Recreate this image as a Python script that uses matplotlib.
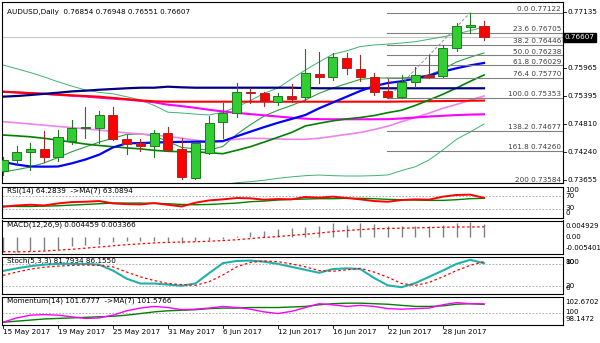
import matplotlib
matplotlib.use("Agg")
import matplotlib.pyplot as plt
from matplotlib.patches import Rectangle
from matplotlib.transforms import blended_transform_factory

# ---------------- data ----------------
dates = ["15 May 2017", "19 May 2017", "25 May 2017", "31 May 2017", "6 Jun 2017",
         "12 Jun 2017", "16 Jun 2017", "22 Jun 2017", "28 Jun 2017"]
date_idx = [0, 4, 8, 12, 16, 20, 24, 28, 32]

opens = [0.73842, 0.74070, 0.74229, 0.74297, 0.74138, 0.74469, 0.74726, 0.74726, 0.75002, 0.74498,
         0.74428, 0.74360, 0.74623, 0.74291, 0.73690, 0.74208, 0.74863, 0.75049, 0.75484, 0.75464,
         0.75277, 0.75395, 0.75381, 0.75851, 0.75782, 0.76176, 0.75954, 0.75795, 0.75505, 0.75381,
         0.75679, 0.75830, 0.75809, 0.76383, 0.76830, 0.76854]
highs = [0.74132, 0.74366, 0.74415, 0.74670, 0.74691, 0.74898, 0.75161, 0.75091, 0.75173, 0.74587,
         0.74498, 0.74691, 0.74759, 0.74519, 0.74449, 0.74981, 0.75244, 0.75658, 0.75555, 0.75484,
         0.75464, 0.75637, 0.76369, 0.76313, 0.76280, 0.76292, 0.76244, 0.75878, 0.75741, 0.75830,
         0.76002, 0.76244, 0.76452, 0.76901, 0.77122, 0.76948]
lows = [0.73759, 0.73966, 0.73862, 0.74034, 0.74049, 0.74395, 0.74531, 0.74415, 0.74484, 0.74194,
        0.74262, 0.74138, 0.74266, 0.73670, 0.73676, 0.74188, 0.74519, 0.74966, 0.75256, 0.75188,
        0.75209, 0.75277, 0.75312, 0.75671, 0.75727, 0.75845, 0.75712, 0.75416, 0.75353, 0.75360,
        0.75575, 0.75768, 0.75795, 0.76333, 0.76694, 0.76551]
closes = [0.74070, 0.74229, 0.74291, 0.74138, 0.74552, 0.74726, 0.74753, 0.75002, 0.74498, 0.74395,
          0.74360, 0.74623, 0.74277, 0.73711, 0.74415, 0.74830, 0.75037, 0.75484, 0.75451, 0.75298,
          0.75401, 0.75333, 0.75865, 0.75782, 0.76209, 0.75969, 0.75795, 0.75484, 0.75381, 0.75691,
          0.75830, 0.75782, 0.76396, 0.76845, 0.76858, 0.76607]

ma_navy = [0.75381, 0.75395, 0.75416, 0.75440, 0.75463, 0.75490, 0.75505, 0.75525, 0.75540, 0.75555,
           0.75567, 0.75567, 0.75588, 0.75575, 0.75567, 0.75567, 0.75567, 0.75567, 0.75567, 0.75567,
           0.75567, 0.75567, 0.75560, 0.75555, 0.75555, 0.75555, 0.75555, 0.75555, 0.75555, 0.75555,
           0.75555, 0.75555, 0.75555, 0.75555, 0.75555, 0.75555]
ma_red = [0.75484, 0.75470, 0.75455, 0.75440, 0.75425, 0.75410, 0.75395, 0.75381, 0.75355, 0.75330,
          0.75305, 0.75285, 0.75277, 0.75277, 0.75277, 0.75277, 0.75277, 0.75277, 0.75277, 0.75277,
          0.75277, 0.75277, 0.75277, 0.75277, 0.75277, 0.75277, 0.75277, 0.75277, 0.75277, 0.75280,
          0.75283, 0.75287, 0.75290, 0.75294, 0.75297, 0.75300]
ma_magenta = [0.75484, 0.75468, 0.75452, 0.75440, 0.75420, 0.75400, 0.75385, 0.75360, 0.75340, 0.75320,
              0.75295, 0.75265, 0.75215, 0.75185, 0.75150, 0.75110, 0.75075, 0.75045, 0.75020, 0.74995,
              0.74970, 0.74945, 0.74925, 0.74915, 0.74913, 0.74913, 0.74913, 0.74913, 0.74915, 0.74930,
              0.74950, 0.74970, 0.74985, 0.75000, 0.75010, 0.75016]
ma_violet = [0.74863, 0.74840, 0.74815, 0.74790, 0.74765, 0.74740, 0.74715, 0.74690, 0.74660, 0.74630,
             0.74610, 0.74585, 0.74560, 0.74520, 0.74480, 0.74449, 0.74470, 0.74500, 0.74519, 0.74515,
             0.74505, 0.74498, 0.74498, 0.74520, 0.74560, 0.74600, 0.74640, 0.74700, 0.74770, 0.74863,
             0.74950, 0.75040, 0.75140, 0.75220, 0.75310, 0.75395]
ma_blue = [0.74028, 0.73975, 0.73935, 0.73931, 0.73935, 0.74000, 0.74080, 0.74180, 0.74330, 0.74415,
           0.74420, 0.74430, 0.74440, 0.74445, 0.74449, 0.74449, 0.74460, 0.74560, 0.74656, 0.74750,
           0.74840, 0.74920, 0.75002, 0.75140, 0.75260, 0.75380, 0.75500, 0.75600, 0.75664, 0.75700,
           0.75760, 0.75820, 0.75900, 0.75970, 0.76030, 0.76079]
bb_mid = [0.74587, 0.74570, 0.74550, 0.74519, 0.74480, 0.74440, 0.74400, 0.74370, 0.74345, 0.74320,
          0.74300, 0.74270, 0.74250, 0.74241, 0.74241, 0.74220, 0.74200, 0.74270, 0.74345, 0.74440,
          0.74540, 0.74640, 0.74774, 0.74830, 0.74880, 0.74920, 0.74950, 0.74990, 0.75050, 0.75100,
          0.75200, 0.75312, 0.75430, 0.75560, 0.75700, 0.75830]
bb_up = [0.76037, 0.75960, 0.75880, 0.75790, 0.75690, 0.75600, 0.75520, 0.75470, 0.75440, 0.75380,
         0.75312, 0.75200, 0.75060, 0.75043, 0.75020, 0.75002, 0.75060, 0.75167, 0.75300, 0.75450,
         0.75560, 0.75750, 0.75934, 0.76100, 0.76260, 0.76330, 0.76420, 0.76452, 0.76470, 0.76493,
         0.76520, 0.76570, 0.76620, 0.76680, 0.76750, 0.76824]
bb_low = [0.73140, 0.73180, 0.73220, 0.73250, 0.73270, 0.73280, 0.73280, 0.73270, 0.73250, 0.73260,
          0.73290, 0.73340, 0.73440, 0.73440, 0.73460, 0.73500, 0.73560, 0.73600, 0.73620, 0.73650,
          0.73690, 0.73720, 0.73745, 0.73758, 0.73745, 0.73738, 0.73738, 0.73745, 0.73760, 0.73850,
          0.73930, 0.74070, 0.74276, 0.74500, 0.74650, 0.74815]
ma_fast = [0.73821, 0.73870, 0.73925, 0.74010, 0.74120, 0.74240, 0.74340, 0.74440, 0.74520, 0.74600,
           0.74609, 0.74570, 0.74450, 0.74330, 0.74300, 0.74276, 0.74350, 0.74600, 0.74800, 0.74980,
           0.75100, 0.75200, 0.75312, 0.75450, 0.75560, 0.75650, 0.75740, 0.75768, 0.75768, 0.75768,
           0.75790, 0.75830, 0.75950, 0.76100, 0.76200, 0.76286]

fib_pct = ["0.0", "23.6", "38.2", "50.0", "61.8", "76.4", "100.0", "138.2", "161.8", "200"]
fib_lvl = [0.77122, 0.76705, 0.76446, 0.76238, 0.76029, 0.75770, 0.75353, 0.74677, 0.74260, 0.73584]
price_ticks = [0.77135, 0.75965, 0.75395, 0.74810, 0.74240, 0.73655]
last_price = 0.76607

rsi = [38, 42, 44, 42, 48, 52, 53, 55, 48, 46, 45, 49, 44, 39, 50, 57, 60, 64, 63, 59,
       61, 60, 67, 65, 68, 64, 60, 55, 53, 58, 60, 59, 68, 73, 74, 64.2839]
rsi_ma = [40, 39, 39, 40, 41, 43, 45, 47, 49, 49, 49, 48, 47, 45, 44, 45, 47, 49, 53, 55,
          58, 60, 61, 62, 62, 63, 63, 62, 60, 59, 58, 57, 57, 59, 62, 63.0894]

macd = [-0.0054, -0.0054, -0.0049, -0.0046, -0.0043, -0.0033, -0.0030, -0.0025, -0.0020, -0.0017,
        -0.0017, -0.0017, -0.0017, -0.0022, -0.0017, -0.0013, -0.0010, 0.0003, 0.0017, 0.0020,
        0.0025, 0.0030, 0.0033, 0.0035, 0.0046, 0.0041, 0.0046, 0.0043, 0.0035, 0.0035,
        0.0035, 0.0035, 0.0041, 0.0047, 0.004929, 0.004459]
macd_sig = [-0.0052, -0.0053, -0.0052, -0.0050, -0.0047, -0.0044, -0.0040, -0.0036, -0.0032, -0.0028,
            -0.0025, -0.0022, -0.0020, -0.0019, -0.0018, -0.0016, -0.0014, -0.0011, -0.0007, -0.0003,
            0.0000, 0.0004, 0.0008, 0.0012, 0.0017, 0.0021, 0.0024, 0.0027, 0.0028, 0.0029,
            0.0030, 0.0031, 0.0032, 0.0033, 0.0033, 0.003366]

stoch = [61, 68, 74, 78, 80, 80, 80, 78, 62, 40, 27, 27, 24, 21, 27, 55, 82, 88, 89, 86,
         80, 72, 64, 56, 66, 68, 66, 42, 22, 17, 28, 45, 62, 80, 91, 81.7934]
stoch_sig = [49, 58, 66, 71, 74, 76, 77, 76, 72, 58, 45, 35, 27, 24, 22, 32, 50, 72, 84, 88,
             86, 80, 72, 62, 60, 64, 68, 58, 44, 27, 22, 30, 45, 62, 76, 86.1550]

mom = [98.3, 99.1, 99.6, 99.7, 99.6, 99.3, 99.0, 99.1, 99.6, 100.4, 100.9, 101.2, 101.0, 100.6,
       100.7, 100.9, 101.2, 101.0, 100.7, 100.2, 99.9, 100.3, 101.0, 101.7, 101.5, 101.2, 101.4,
       101.2, 100.8, 100.7, 100.8, 100.9, 101.5, 101.9, 101.7, 101.6777]
mom_ma = [98.3, 98.5, 98.7, 98.9, 99.0, 99.1, 99.2, 99.3, 99.4, 99.6, 99.9, 100.2, 100.4, 100.5,
          100.6, 100.8, 100.9, 100.9, 101.0, 101.0, 101.0, 101.1, 101.2, 101.5, 101.7, 101.8, 101.8,
          101.7, 101.6, 101.4, 101.2, 101.2, 101.3, 101.6, 101.7, 101.5766]

# ---------------- layout helpers ----------------
W, H = 600, 343
FS = 5.2
plt.rcParams["font.family"] = ["DejaVu Sans"]
fig = plt.figure(figsize=(W / 100, H / 100), dpi=100)
fig.patch.set_facecolor("white")

STEP = 13.743          # pixels per bar
X0, X1 = 2, 563        # panel left / right edge in pixels
xlim = ((X0 - 3) / STEP, (X1 - 3) / STEP)
n = len(closes)
xs = list(range(n))


def panel(y0, y1):
    ax = fig.add_axes([X0 / W, 1 - y1 / H, (X1 - X0) / W, (y1 - y0) / H])
    ax.set_xlim(*xlim)
    ax.set_xticks([])
    ax.set_yticks([])
    for s in ax.spines.values():
        s.set_color("#000000")
        s.set_linewidth(0.8)
    return ax


def right_label(y_px, text, size=FS, **kw):
    fig.text(565.5 / W, 1 - y_px / H, text, fontsize=size, va="center", ha="left", **kw)


def left_title(ax, text):
    ax.text(5 / (X1 - X0), 0.96, text, transform=ax.transAxes, fontsize=FS,
            va="top", ha="left", color="#000000")


# ---------------- main price panel ----------------
ax = panel(2, 183)
ax.set_ylim(0.773836 - 0.00020713 * 183, 0.773836 - 0.00020713 * 2)

ax.axhline(last_price, color="#C8C8C8", lw=0.8, zorder=1)

ax.plot(xs, bb_low, color="#3CB371", lw=0.7, zorder=2)
ax.plot(xs, bb_up, color="#3CB371", lw=0.7, zorder=2)
ax.plot(xs, ma_fast, color="#2E9E3E", lw=0.8, zorder=2)
ax.plot(xs, ma_violet, color="#EE82EE", lw=1.2, zorder=2)
ax.plot(xs, ma_magenta, color="#FF00FF", lw=1.5, zorder=2)
ax.plot(xs, ma_red, color="#FF0000", lw=1.5, zorder=2)
ax.plot(xs, bb_mid, color="#008000", lw=1.2, zorder=2)
ax.plot(xs, ma_navy, color="#000080", lw=1.6, zorder=2)
ax.plot(xs, ma_blue, color="#0000FF", lw=1.6, zorder=2)

# fibonacci retracement
fib_x0 = 28 - 0.05
for p, lv in zip(fib_pct, fib_lvl):
    ax.plot([fib_x0, xlim[1]], [lv, lv], color="#808080", lw=0.8, zorder=3)
    ax.text((561 - 3) / STEP, lv + 0.00016, f"{p} {lv:.5f}", fontsize=FS, color="#404040",
            ha="right", va="bottom", zorder=4)
ax.plot([28, 34], [fib_lvl[6], fib_lvl[0]], color="#909090", lw=0.7, ls=(0, (3, 2)), zorder=3)

# candles
for i in xs:
    o, h, l, c = opens[i], highs[i], lows[i], closes[i]
    up = c >= o
    face = "#32CD32" if up else "#FF0000"
    edge = "#1E7B1E" if up else "#A52A2A"
    ax.plot([i, i], [l, h], color=edge, lw=0.8, zorder=5)
    bot = min(o, c)
    hgt = max(abs(c - o), 0.00004)
    ax.add_patch(Rectangle((i - 0.33, bot), 0.66, hgt, facecolor=face,
                           edgecolor=edge, lw=0.7, zorder=6))

left_title(ax, "AUDUSD,Daily  0.76854 0.76948 0.76551 0.76607")

tr = blended_transform_factory(ax.transAxes, ax.transData)
for t in price_ticks:
    ax.text(1 + 4 / (X1 - X0), t, f"{t:.5f}", transform=tr, fontsize=FS, va="center", ha="left")
    ax.plot([1, 1 + 2.5 / (X1 - X0)], [t, t], transform=tr, color="black", lw=0.6, clip_on=False)
ax.text(1 + 1.5 / (X1 - X0), last_price, f"{last_price:.5f}", transform=tr, fontsize=FS,
        va="center", ha="left", color="white",
        bbox=dict(boxstyle="square,pad=0.25", fc="black", ec="black"))

# ---------------- RSI ----------------
ar = panel(186.5, 217.5)
ar.set_ylim(6.3, 98.1)
for lv in (70, 30):
    ar.axhline(lv, color="#A0A0A0", lw=0.6, ls=(0, (2, 2)))
ar.plot(xs, rsi_ma, color="#008000", lw=1.0)
ar.plot(xs, rsi, color="#FF0000", lw=1.4)
left_title(ar, "RSI(14) 64.2839  ->MA(7) 63.0894")
right_label(190.5, "100")
right_label(195.5, "70")
right_label(208.5, "30")
right_label(213, "0")

# ---------------- MACD ----------------
am = panel(220.5, 253.5)
am.set_ylim(-0.00585, 0.00555)
am.vlines(xs, 0, macd, color="#808080", lw=1.0)
am.plot(xs, macd_sig, color="#FF0000", lw=0.9, ls=(0, (2, 2)))
left_title(am, "MACD(12,26,9) 0.004459 0.003366")
right_label(226.5, "0.004929", size=5.0)
right_label(236.7, "0.00", size=5.0)
right_label(248.3, "-0.005401", size=5.0)

# ---------------- Stochastic ----------------
ast = panel(256.5, 293.5)
ast.set_ylim(0, 100)
for lv in (80, 20):
    ast.axhline(lv, color="#A0A0A0", lw=0.6, ls=(0, (2, 2)))
ast.plot(xs, stoch, color="#20B2AA", lw=1.5)
ast.plot(xs, stoch_sig, color="#FF0000", lw=0.9, ls=(0, (2, 2)))
left_title(ast, "Stoch(5,3,3) 81.7934 86.1550")
right_label(261.5, "100")
right_label(262.5, "80")
right_label(286, "20")
right_label(287.5, "0")

# ---------------- Momentum ----------------
ao = panel(296.5, 325)
ao.set_ylim(98.1472 - 0.35, 102.6702 + 0.35)
ao.axhline(100, color="#A0A0A0", lw=0.6, ls=(0, (2, 2)))
ao.plot(xs, mom_ma, color="#008000", lw=1.0)
ao.plot(xs, mom, color="#FF00FF", lw=1.0)
left_title(ao, "Momentum(14) 101.6777  ->MA(7) 101.5766")
right_label(302.5, "102.6702", size=5.0)
right_label(312.3, "100", size=5.0)
right_label(319.3, "98.1472", size=5.0)

# date axis
for i, d in zip(date_idx, dates):
    xp = 3 + i * STEP
    fig.add_artist(plt.Line2D([xp / W, xp / W], [1 - 325 / H, 1 - 328 / H], color="black", lw=0.6))
    fig.text(xp / W, 1 - 332 / H, d, fontsize=FS, ha="left", va="center")

fig.savefig("out.png", dpi=100, facecolor="white")
